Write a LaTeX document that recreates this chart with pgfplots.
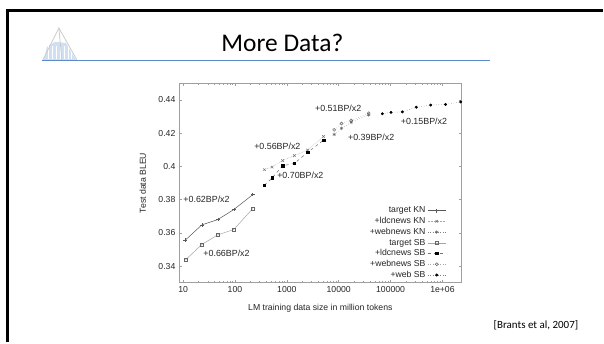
\documentclass[border=0pt]{standalone}
\usepackage{fontspec}
\setmainfont{Liberation Sans}
\newfontfamily\carlito{Carlito}
\usepackage{pgfplots}
\pgfplotsset{compat=1.18}
\definecolor{slideblue}{HTML}{5B8AC6}
\definecolor{logoblue}{HTML}{CFE0F4}
\begin{document}
\begin{tikzpicture}[x=1pt,y=1pt]
\path[fill=white] (0,0) rectangle (604,343);
% slide frame
\draw[line width=2.6pt] (7.3,0) -- (7.3,332.3) -- (604,332.3);
% logo
\fill[logoblue] (44,283) -- (47,296) -- (55,301) -- (66,300) -- (76,283) -- cycle;
\foreach \xx in {48,52,56,60,64,68,72} {\draw[white,line width=0.7pt] (\xx,283.5) -- (\xx,297);}
\draw[gray!40,line width=0.8pt] (43,283) -- (59,315) -- (77,283);
\draw[gray!40,line width=0.8pt] (59,315) -- (62,283);
% title
\node[font=\carlito\fontsize{25.5}{30}\selectfont] at (283,300) {More Data?};
\draw[slideblue,line width=1.3pt] (42,282.3) -- (491,282.3);
% citation
\node[font=\carlito\fontsize{11}{13}\selectfont,anchor=east] at (583,17) {[Brants et al, 2007]};
\begin{axis}[
  at={(179.3pt,59.7pt)}, anchor=south west, scale only axis,
  width=283.4pt, height=199.8pt,
  xmode=log, xmin=8.3, xmax=2.35e6, ymin=0.33, ymax=0.45,
  xtick={10,100,1000,10000,100000,1000000},
  xticklabels={10,100,1000,10000,100000,1e+06},
  ytick={0.34,0.36,0.38,0.40,0.42,0.44},
  yticklabels={0.34,0.36,0.38,0.4,0.42,0.44},
  /pgf/number format/assume math mode=true,
  axis line style={gray!75, line width=0.6pt},
  tick style={gray!75, line width=0.5pt},
  major tick length=3pt, minor tick length=1.8pt,
  tick align=inside,
  ticklabel style={font=\fontsize{8.7}{10}\selectfont, text=black!85},
  label style={font=\fontsize{8.7}{10}\selectfont, text=black!85},
  xlabel={LM training data size in million tokens},
  ylabel={Test data BLEU},
  xlabel style={at={(axis description cs:0.5,-0.128)}, anchor=center},
  ylabel style={at={(axis description cs:-0.128,0.5)}, anchor=center},
  legend plot pos=right,
  legend cell align=right,
  legend style={draw=none, fill=none, at={(axis description cs:0.945,0.008)},
    anchor=south east, inner sep=0pt, font=\fontsize{8.7}{10}\selectfont,
    row sep=-1pt, column sep=0pt, nodes={text=black!85}},
  legend image code/.code={\draw[mark repeat=2,mark phase=2] plot coordinates {(0pt,0pt) (9pt,0pt) (18pt,0pt)};},
]
% target KN
\addplot[black!65, line width=0.5pt, mark=+, mark size=1.8pt, mark options={solid}] coordinates {
(11,0.3556) (23,0.3648) (46.7,0.368) (94.8,0.374) (220,0.383)};
\addlegendentry{target KN}
% +ldcnews KN
\addplot[black!35, line width=0.5pt, densely dotted, mark=x, mark size=1.8pt, mark options={solid,black!55}] coordinates {
(369,0.398) (519,0.3996) (830,0.4035) (1393,0.4065) (2513,0.4098) (5100,0.418)};
\addlegendentry{+ldcnews KN}
% +webnews KN
\addplot[black!50, line width=0.5pt, dotted, mark=asterisk, mark size=1.7pt, mark options={solid,black!60}] coordinates {
(8185,0.4192) (11300,0.4229) (17400,0.4265) (37800,0.431)};
\addlegendentry{+webnews KN}
% target SB
\addplot[black!35, line width=0.5pt, mark=square, mark size=1.5pt, mark options={solid,black!60}] coordinates {
(11,0.3436) (23,0.353) (46.7,0.3588) (94.8,0.362) (220,0.3746)};
\addlegendentry{target SB}
% +ldcnews SB
\addplot[black!55, line width=0.5pt, dashed, mark=square*, mark size=1.3pt, mark options={solid,black}] coordinates {
(369,0.3886) (519,0.393) (830,0.4004) (1393,0.4018) (2513,0.4084) (5100,0.4158)};
\addlegendentry{+ldcnews SB}
% +webnews SB
\addplot[black!35, line width=0.5pt, dotted, mark=o, mark size=1.5pt, mark options={solid,black!60}] coordinates {
(8185,0.422) (11300,0.4258) (17400,0.4276) (37800,0.432)};
\addlegendentry{+webnews SB}
% +web SB
\addplot[black!50, line width=0.5pt, dotted, mark=*, mark size=1.2pt, mark options={solid,black}] coordinates {
(69500,0.4317) (102000,0.4325) (168700,0.4328) (313000,0.4356) (593000,0.4369) (1150000,0.4373) (2240000,0.4388)};
\addlegendentry{+web SB}
% annotations
\begin{scope}[every node/.style={font=\fontsize{8.9}{10}\selectfont, text=black!85, inner sep=0pt}]
\node at (axis cs:28.3,0.380) {+0.62BP/x2};
\node at (axis cs:68.7,0.3476) {+0.66BP/x2};
\node at (axis cs:656,0.412) {+0.56BP/x2};
\node at (axis cs:1820,0.3946) {+0.70BP/x2};
\node at (axis cs:9770,0.4352) {+0.51BP/x2};
\node at (axis cs:42200,0.4172) {+0.39BP/x2};
\node at (axis cs:440000,0.427) {+0.15BP/x2};
\end{scope}
\end{axis}
\end{tikzpicture}
\end{document}
